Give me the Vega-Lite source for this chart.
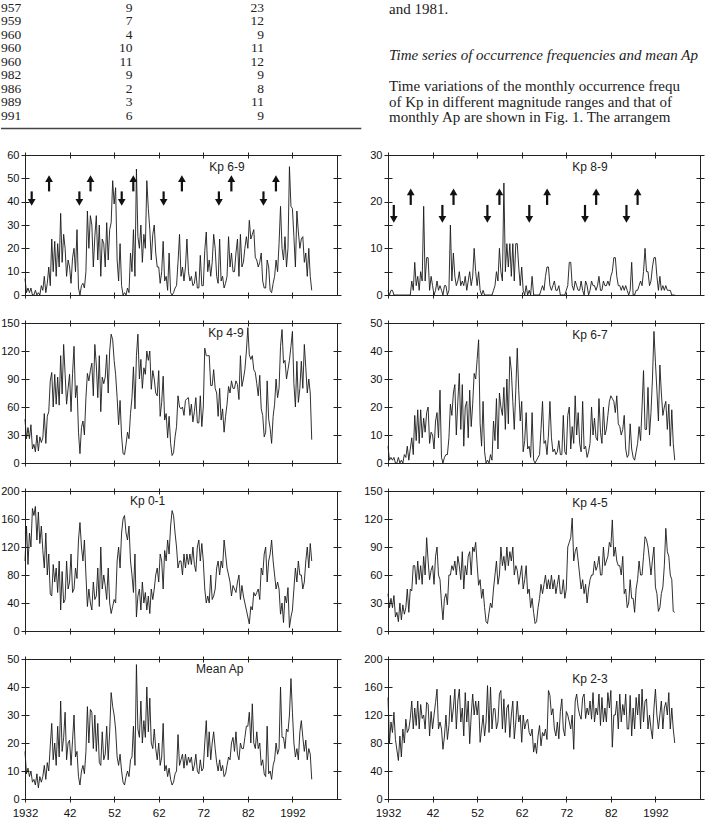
{
"$schema":"https://vega.github.io/schema/vega-lite/v6.json",
"padding":0,
"background":"white",
"columns":2,
"bounds":"flush",
"align":"each",
"spacing":{"row":28,"column":51},
"config":{
 "view":{"stroke":"#222","strokeWidth":1},
 "axis":{"domain":false,"grid":false,"tickColor":"#222","tickWidth":1,"labelFont":"Liberation Sans","labelFontSize":11,"labelColor":"#111","labelFlush":false,"labelOverlap":false}
},
"datasets":{
"m":[
{"t":1932,"a":7,"b":47,"c":100,"d":17,"e":1,"f":6,"g":40,"h":145},
{"t":1932.33,"a":1,"b":26,"c":150,"d":9,"e":0,"f":1,"g":25,"h":80},
{"t":1932.67,"a":3,"b":38,"c":95,"d":11,"e":1,"f":2,"g":35,"h":110},
{"t":1933,"a":1,"b":26,"c":140,"d":8,"e":1,"f":1,"g":25,"h":95},
{"t":1933.33,"a":3,"b":41,"c":120,"d":10,"e":0,"f":2,"g":38,"h":124},
{"t":1933.67,"a":0,"b":15,"c":175,"d":6,"e":0,"f":0,"g":15,"h":85},
{"t":1934,"a":0,"b":20,"c":165,"d":7,"e":0,"f":0,"g":20,"h":70},
{"t":1934.33,"a":2,"b":12,"c":178,"d":5,"e":0,"f":2,"g":10,"h":55},
{"t":1934.67,"a":0,"b":30,"c":130,"d":9,"e":0,"f":0,"g":30,"h":90},
{"t":1935,"a":1,"b":13,"c":170,"d":4,"e":0,"f":1,"g":12,"h":60},
{"t":1935.33,"a":0,"b":28,"c":125,"d":8,"e":0,"f":0,"g":28,"h":100},
{"t":1935.67,"a":4,"b":22,"c":150,"d":6,"e":0,"f":3,"g":18,"h":80},
{"t":1936,"a":2,"b":27,"c":115,"d":8,"e":0,"f":2,"g":25,"h":114},
{"t":1936.33,"a":8,"b":53,"c":90,"d":12,"e":0,"f":6,"g":45,"h":95},
{"t":1936.67,"a":1,"b":21,"c":140,"d":7,"e":0,"f":1,"g":20,"h":100},
{"t":1937,"a":5,"b":50,"c":80,"d":13,"e":0,"f":5,"g":45,"h":115},
{"t":1937.33,"a":12,"b":55,"c":110,"d":10,"e":3,"f":9,"g":43,"h":140},
{"t":1937.67,"a":4,"b":88,"c":53,"d":19,"e":1,"f":3,"g":70,"h":100},
{"t":1938,"a":24,"b":97,"c":50,"d":27,"e":7,"f":17,"g":70,"h":130},
{"t":1938.33,"a":10,"b":60,"c":95,"d":14,"e":2,"f":8,"g":50,"h":105},
{"t":1938.67,"a":23,"b":95,"c":70,"d":20,"e":4,"f":19,"g":75,"h":140},
{"t":1939,"a":8,"b":63,"c":90,"d":12,"e":1,"f":7,"g":55,"h":100},
{"t":1939.33,"a":22,"b":92,"c":55,"d":26,"e":5,"f":19,"g":70,"h":135},
{"t":1939.67,"a":12,"b":62,"c":100,"d":15,"e":3,"f":9,"g":50,"h":115},
{"t":1940,"a":35,"b":115,"c":30,"d":35,"e":19,"f":16,"g":80,"h":120},
{"t":1940.33,"a":14,"b":74,"c":85,"d":17,"e":3,"f":11,"g":60,"h":100},
{"t":1940.67,"a":26,"b":127,"c":40,"d":22,"e":8,"f":18,"g":100,"h":138},
{"t":1941,"a":20,"b":95,"c":45,"d":31,"e":8,"f":20,"g":75,"h":135},
{"t":1941.33,"a":8,"b":63,"c":100,"d":14,"e":1,"f":7,"g":55,"h":90},
{"t":1941.67,"a":15,"b":80,"c":60,"d":20,"e":4,"f":11,"g":65,"h":125},
{"t":1942,"a":12,"b":95,"c":70,"d":21,"e":2,"f":10,"g":70,"h":100},
{"t":1942.33,"a":5,"b":55,"c":110,"d":12,"e":0,"f":5,"g":50,"h":120},
{"t":1942.67,"a":16,"b":96,"c":55,"d":21,"e":1,"f":15,"g":80,"h":138},
{"t":1943,"a":20,"b":125,"c":60,"d":30,"e":3,"f":18,"g":90,"h":157},
{"t":1943.33,"a":10,"b":70,"c":90,"d":15,"e":1,"f":9,"g":60,"h":100},
{"t":1943.67,"a":28,"b":83,"c":75,"d":17,"e":2,"f":26,"g":55,"h":110},
{"t":1944,"a":3,"b":33,"c":130,"d":8,"e":1,"f":2,"g":30,"h":100},
{"t":1944.33,"a":0,"b":10,"c":155,"d":5,"e":0,"f":0,"g":12,"h":71},
{"t":1944.67,"a":4,"b":38,"c":120,"d":10,"e":2,"f":2,"g":35,"h":90},
{"t":1945,"a":5,"b":45,"c":100,"d":12,"e":2,"f":3,"g":40,"h":120},
{"t":1945.33,"a":3,"b":30,"c":130,"d":9,"e":0,"f":3,"g":28,"h":85},
{"t":1945.67,"a":10,"b":70,"c":80,"d":17,"e":1,"f":9,"g":60,"h":105},
{"t":1946,"a":36,"b":96,"c":35,"d":33,"e":15,"f":21,"g":60,"h":148},
{"t":1946.33,"a":20,"b":88,"c":60,"d":20,"e":3,"f":17,"g":70,"h":110},
{"t":1946.67,"a":34,"b":99,"c":40,"d":32,"e":9,"f":25,"g":65,"h":130},
{"t":1947,"a":30,"b":107,"c":30,"d":31,"e":4,"f":28,"g":75,"h":157},
{"t":1947.33,"a":12,"b":72,"c":70,"d":18,"e":2,"f":10,"g":60,"h":100},
{"t":1947.67,"a":25,"b":127,"c":45,"d":30,"e":3,"f":22,"g":80,"h":140},
{"t":1948,"a":34,"b":105,"c":50,"d":17,"e":5,"f":32,"g":70,"h":157},
{"t":1948.33,"a":15,"b":70,"c":90,"d":27,"e":2,"f":12,"g":55,"h":110},
{"t":1948.67,"a":30,"b":115,"c":35,"d":13,"e":3,"f":28,"g":85,"h":130},
{"t":1949,"a":8,"b":55,"c":120,"d":12,"e":2,"f":6,"g":45,"h":90},
{"t":1949.33,"a":24,"b":92,"c":60,"d":24,"e":4,"f":20,"g":70,"h":152},
{"t":1949.67,"a":22,"b":85,"c":80,"d":14,"e":1,"f":22,"g":60,"h":110},
{"t":1950,"a":12,"b":92,"c":65,"d":16,"e":3,"f":9,"g":80,"h":140},
{"t":1950.33,"a":31,"b":116,"c":45,"d":26,"e":5,"f":26,"g":85,"h":79},
{"t":1950.67,"a":15,"b":75,"c":90,"d":14,"e":2,"f":13,"g":60,"h":120},
{"t":1951,"a":28,"b":120,"c":40,"d":24,"e":4,"f":21,"g":90,"h":150},
{"t":1951.33,"a":31,"b":138,"c":25,"d":38,"e":10,"f":32,"g":85,"h":120},
{"t":1951.67,"a":49,"b":132,"c":35,"d":33,"e":5,"f":30,"g":95,"h":140},
{"t":1952,"a":39,"b":110,"c":45,"d":30,"e":2,"f":37,"g":71,"h":120},
{"t":1952.33,"a":46,"b":95,"c":40,"d":25,"e":5,"f":44,"g":49,"h":140},
{"t":1952.67,"a":15,"b":70,"c":100,"d":15,"e":1,"f":14,"g":55,"h":81},
{"t":1953,"a":6,"b":41,"c":120,"d":12,"e":0,"f":6,"g":35,"h":100},
{"t":1953.33,"a":22,"b":67,"c":90,"d":16,"e":1,"f":22,"g":45,"h":120},
{"t":1953.67,"a":4,"b":29,"c":140,"d":10,"e":0,"f":4,"g":25,"h":90},
{"t":1954,"a":0,"b":10,"c":160,"d":6,"e":0,"f":0,"g":10,"h":110},
{"t":1954.33,"a":1,"b":9,"c":165,"d":5,"e":0,"f":1,"g":8,"h":162},
{"t":1954.67,"a":0,"b":20,"c":140,"d":8,"e":0,"f":0,"g":20,"h":95},
{"t":1955,"a":3,"b":33,"c":130,"d":10,"e":0,"f":3,"g":30,"h":160},
{"t":1955.33,"a":1,"b":26,"c":150,"d":8,"e":0,"f":1,"g":25,"h":100},
{"t":1955.67,"a":18,"b":53,"c":100,"d":14,"e":1,"f":15,"g":45,"h":129},
{"t":1956,"a":10,"b":70,"c":80,"d":15,"e":2,"f":8,"g":60,"h":129},
{"t":1956.33,"a":28,"b":103,"c":55,"d":26,"e":5,"f":23,"g":75,"h":100},
{"t":1956.67,"a":8,"b":58,"c":110,"d":12,"e":3,"f":5,"g":50,"h":110},
{"t":1957,"a":54,"b":115,"c":20,"d":48,"e":10,"f":25,"g":60,"h":150},
{"t":1957.33,"a":25,"b":138,"c":50,"d":25,"e":5,"f":20,"g":90,"h":155},
{"t":1957.67,"a":20,"b":90,"c":60,"d":22,"e":3,"f":17,"g":70,"h":100},
{"t":1958,"a":30,"b":111,"c":30,"d":35,"e":24,"f":27,"g":80,"h":143},
{"t":1958.33,"a":14,"b":80,"c":70,"d":20,"e":5,"f":12,"g":65,"h":95},
{"t":1958.67,"a":26,"b":102,"c":40,"d":28,"e":11,"f":30,"g":90,"h":130},
{"t":1959,"a":20,"b":95,"c":55,"d":22,"e":6,"f":14,"g":70,"h":135},
{"t":1959.33,"a":49,"b":120,"c":30,"d":40,"e":11,"f":38,"g":85,"h":88},
{"t":1959.67,"a":37,"b":110,"c":50,"d":24,"e":4,"f":33,"g":75,"h":120},
{"t":1960,"a":28,"b":120,"c":25,"d":36,"e":11,"f":22,"g":90,"h":140},
{"t":1960.33,"a":15,"b":79,"c":60,"d":20,"e":3,"f":12,"g":60,"h":86},
{"t":1960.67,"a":26,"b":99,"c":45,"d":18,"e":11,"f":26,"g":70,"h":110},
{"t":1961,"a":30,"b":90,"c":60,"d":25,"e":11,"f":41,"g":65,"h":140},
{"t":1961.33,"a":18,"b":75,"c":80,"d":18,"e":6,"f":26,"g":50,"h":110},
{"t":1961.67,"a":12,"b":72,"c":90,"d":14,"e":2,"f":15,"g":60,"h":120},
{"t":1962,"a":12,"b":99,"c":70,"d":20,"e":6,"f":22,"g":70,"h":81},
{"t":1962.33,"a":5,"b":50,"c":110,"d":12,"e":1,"f":4,"g":45,"h":120},
{"t":1962.67,"a":10,"b":65,"c":100,"d":15,"e":0,"f":8,"g":55,"h":100},
{"t":1963,"a":23,"b":93,"c":60,"d":27,"e":2,"f":18,"g":70,"h":110},
{"t":1963.33,"a":6,"b":46,"c":115,"d":10,"e":0,"f":5,"g":40,"h":114},
{"t":1963.67,"a":8,"b":53,"c":100,"d":12,"e":1,"f":6,"g":45,"h":95},
{"t":1964,"a":2,"b":27,"c":130,"d":8,"e":0,"f":2,"g":25,"h":90},
{"t":1964.33,"a":18,"b":50,"c":110,"d":11,"e":4,"f":18,"g":35,"h":100},
{"t":1964.67,"a":1,"b":21,"c":150,"d":7,"e":0,"f":1,"g":20,"h":67},
{"t":1965,"a":0,"b":8,"c":172,"d":5,"e":0,"f":0,"g":8,"h":80},
{"t":1965.33,"a":1,"b":11,"c":165,"d":6,"e":0,"f":1,"g":10,"h":65},
{"t":1965.67,"a":3,"b":28,"c":140,"d":9,"e":0,"f":2,"g":25,"h":90},
{"t":1966,"a":4,"b":39,"c":120,"d":10,"e":0,"f":3,"g":35,"h":105},
{"t":1966.33,"a":14,"b":72,"c":90,"d":23,"e":1,"f":12,"g":50,"h":76},
{"t":1966.67,"a":26,"b":60,"c":100,"d":12,"e":2,"f":22,"g":40,"h":95},
{"t":1967,"a":8,"b":58,"c":100,"d":14,"e":1,"f":7,"g":50,"h":90},
{"t":1967.33,"a":12,"b":60,"c":80,"d":16,"e":4,"f":8,"g":60,"h":100},
{"t":1967.67,"a":6,"b":51,"c":110,"d":11,"e":6,"f":3,"g":45,"h":85},
{"t":1968,"a":12,"b":67,"c":90,"d":16,"e":6,"f":10,"g":55,"h":155},
{"t":1968.33,"a":24,"b":69,"c":110,"d":12,"e":2,"f":22,"g":45,"h":148},
{"t":1968.67,"a":10,"b":70,"c":95,"d":15,"e":1,"f":9,"g":60,"h":120},
{"t":1969,"a":6,"b":51,"c":110,"d":13,"e":2,"f":4,"g":45,"h":129},
{"t":1969.33,"a":8,"b":63,"c":95,"d":15,"e":3,"f":5,"g":55,"h":100},
{"t":1969.67,"a":4,"b":44,"c":120,"d":10,"e":1,"f":3,"g":40,"h":90},
{"t":1970,"a":5,"b":55,"c":95,"d":12,"e":1,"f":4,"g":50,"h":110},
{"t":1970.33,"a":10,"b":70,"c":85,"d":16,"e":2,"f":8,"g":60,"h":86},
{"t":1970.67,"a":3,"b":43,"c":120,"d":10,"e":0,"f":3,"g":40,"h":125},
{"t":1971,"a":3,"b":43,"c":130,"d":9,"e":0,"f":3,"g":40,"h":143},
{"t":1971.33,"a":17,"b":72,"c":100,"d":14,"e":0,"f":17,"g":55,"h":100},
{"t":1971.67,"a":4,"b":39,"c":125,"d":10,"e":0,"f":4,"g":35,"h":90},
{"t":1972,"a":4,"b":60,"c":100,"d":11,"e":1,"f":3,"g":45,"h":125},
{"t":1972.33,"a":19,"b":123,"c":60,"d":20,"e":2,"f":17,"g":90,"h":120},
{"t":1972.67,"a":27,"b":115,"c":40,"d":28,"e":7,"f":20,"g":95,"h":110},
{"t":1973,"a":10,"b":115,"c":50,"d":15,"e":7,"f":5,"g":100,"h":100},
{"t":1973.33,"a":15,"b":115,"c":40,"d":24,"e":2,"f":13,"g":121,"h":120},
{"t":1973.67,"a":8,"b":83,"c":80,"d":14,"e":1,"f":7,"g":75,"h":71},
{"t":1974,"a":14,"b":83,"c":45,"d":20,"e":3,"f":24,"g":85,"h":140},
{"t":1974.33,"a":26,"b":100,"c":50,"d":24,"e":2,"f":10,"g":90,"h":150},
{"t":1974.67,"a":20,"b":80,"c":60,"d":18,"e":1,"f":18,"g":75,"h":130},
{"t":1975,"a":8,"b":75,"c":90,"d":13,"e":1,"f":7,"g":60,"h":120},
{"t":1975.33,"a":5,"b":50,"c":100,"d":10,"e":3,"f":4,"g":45,"h":114},
{"t":1975.67,"a":24,"b":80,"c":80,"d":14,"e":1,"f":22,"g":55,"h":145},
{"t":1976,"a":6,"b":46,"c":100,"d":10,"e":0,"f":5,"g":40,"h":150},
{"t":1976.33,"a":8,"b":58,"c":90,"d":12,"e":3,"f":6,"g":50,"h":115},
{"t":1976.67,"a":3,"b":33,"c":130,"d":8,"e":2,"f":2,"g":30,"h":130},
{"t":1977,"a":5,"b":50,"c":110,"d":9,"e":0,"f":4,"g":45,"h":120},
{"t":1977.33,"a":8,"b":63,"c":90,"d":12,"e":1,"f":7,"g":55,"h":140},
{"t":1977.67,"a":25,"b":82,"c":80,"d":15,"e":3,"f":20,"g":60,"h":114},
{"t":1978,"a":12,"b":75,"c":70,"d":14,"e":2,"f":10,"g":60,"h":152},
{"t":1978.33,"a":18,"b":88,"c":50,"d":20,"e":2,"f":16,"g":75,"h":110},
{"t":1978.67,"a":10,"b":80,"c":65,"d":22,"e":1,"f":9,"g":65,"h":130},
{"t":1979,"a":10,"b":80,"c":60,"d":17,"e":2,"f":8,"g":70,"h":120},
{"t":1979.33,"a":18,"b":88,"c":55,"d":24,"e":4,"f":23,"g":80,"h":150},
{"t":1979.67,"a":24,"b":84,"c":70,"d":16,"e":1,"f":11,"g":60,"h":105},
{"t":1980,"a":8,"b":68,"c":80,"d":14,"e":1,"f":7,"g":60,"h":145},
{"t":1980.33,"a":26,"b":115,"c":45,"d":20,"e":3,"f":20,"g":90,"h":110},
{"t":1980.67,"a":12,"b":82,"c":65,"d":18,"e":2,"f":10,"g":70,"h":130},
{"t":1981,"a":14,"b":90,"c":50,"d":18,"e":2,"f":12,"g":75,"h":110},
{"t":1981.33,"a":20,"b":100,"c":40,"d":22,"e":3,"f":17,"g":80,"h":152},
{"t":1981.67,"a":25,"b":120,"c":30,"d":26,"e":2,"f":22,"g":95,"h":130},
{"t":1982,"a":20,"b":145,"c":20,"d":26,"e":4,"f":24,"g":90,"h":155},
{"t":1982.33,"a":32,"b":116,"c":10,"d":31,"e":5,"f":23,"g":119,"h":74},
{"t":1982.67,"a":24,"b":111,"c":35,"d":20,"e":8,"f":22,"g":80,"h":120},
{"t":1983,"a":26,"b":115,"c":30,"d":34,"e":8,"f":18,"g":90,"h":120},
{"t":1983.33,"a":28,"b":100,"c":55,"d":20,"e":4,"f":24,"g":75,"h":140},
{"t":1983.67,"a":16,"b":97,"c":50,"d":18,"e":2,"f":14,"g":70,"h":100},
{"t":1984,"a":15,"b":85,"c":55,"d":24,"e":2,"f":13,"g":70,"h":150},
{"t":1984.33,"a":12,"b":72,"c":60,"d":18,"e":1,"f":10,"g":60,"h":110},
{"t":1984.67,"a":14,"b":94,"c":45,"d":20,"e":2,"f":12,"g":80,"h":135},
{"t":1985,"a":18,"b":58,"c":90,"d":12,"e":1,"f":17,"g":40,"h":120},
{"t":1985.33,"a":6,"b":51,"c":80,"d":14,"e":2,"f":5,"g":45,"h":150},
{"t":1985.67,"a":3,"b":28,"c":110,"d":9,"e":1,"f":2,"g":25,"h":100},
{"t":1986,"a":3,"b":33,"c":120,"d":8,"e":0,"f":3,"g":30,"h":100},
{"t":1986.33,"a":15,"b":88,"c":70,"d":26,"e":1,"f":14,"g":55,"h":148},
{"t":1986.67,"a":12,"b":47,"c":100,"d":9,"e":7,"f":5,"g":35,"h":90},
{"t":1987,"a":2,"b":37,"c":110,"d":10,"e":0,"f":2,"g":35,"h":130},
{"t":1987.33,"a":1,"b":21,"c":130,"d":7,"e":0,"f":1,"g":20,"h":100},
{"t":1987.67,"a":5,"b":50,"c":100,"d":12,"e":1,"f":4,"g":45,"h":145},
{"t":1988,"a":8,"b":63,"c":80,"d":14,"e":1,"f":7,"g":55,"h":120},
{"t":1988.33,"a":15,"b":90,"c":60,"d":20,"e":2,"f":13,"g":75,"h":150},
{"t":1988.67,"a":10,"b":70,"c":70,"d":16,"e":3,"f":8,"g":60,"h":100},
{"t":1989,"a":22,"b":80,"c":60,"d":18,"e":2,"f":20,"g":60,"h":157},
{"t":1989.33,"a":38,"b":125,"c":24,"d":40,"e":5,"f":33,"g":80,"h":110},
{"t":1989.67,"a":20,"b":143,"c":40,"d":22,"e":10,"f":12,"g":101,"h":140},
{"t":1990,"a":15,"b":107,"c":12,"d":22,"e":5,"f":12,"g":98,"h":143},
{"t":1990.33,"a":25,"b":110,"c":50,"d":18,"e":5,"f":27,"g":90,"h":100},
{"t":1990.67,"a":12,"b":90,"c":40,"d":25,"e":2,"f":10,"g":76,"h":120},
{"t":1991,"a":20,"b":100,"c":62,"d":24,"e":3,"f":18,"g":60,"h":100},
{"t":1991.33,"a":55,"b":110,"c":5,"d":30,"e":6,"f":30,"g":76,"h":86},
{"t":1991.67,"a":38,"b":125,"c":20,"d":43,"e":8,"f":47,"g":90,"h":130},
{"t":1992,"a":37,"b":141,"c":30,"d":31,"e":8,"f":36,"g":47,"h":157},
{"t":1992.33,"a":25,"b":85,"c":60,"d":20,"e":4,"f":26,"g":40,"h":120},
{"t":1992.67,"a":12,"b":60,"c":90,"d":15,"e":1,"f":15,"g":21,"h":100},
{"t":1993,"a":36,"b":109,"c":70,"d":18,"e":4,"f":35,"g":25,"h":120},
{"t":1993.33,"a":27,"b":65,"c":100,"d":14,"e":1,"f":25,"g":40,"h":140},
{"t":1993.67,"a":20,"b":80,"c":80,"d":24,"e":2,"f":17,"g":47,"h":100},
{"t":1994,"a":24,"b":109,"c":80,"d":28,"e":1,"f":20,"g":70,"h":130},
{"t":1994.33,"a":25,"b":80,"c":60,"d":22,"e":2,"f":22,"g":110,"h":138},
{"t":1994.67,"a":14,"b":127,"c":70,"d":17,"e":1,"f":12,"g":85,"h":120},
{"t":1995,"a":18,"b":102,"c":100,"d":21,"e":1,"f":21,"g":80,"h":152},
{"t":1995.33,"a":8,"b":75,"c":120,"d":14,"e":1,"f":6,"g":60,"h":100},
{"t":1995.67,"a":20,"b":90,"c":90,"d":18,"e":0,"f":19,"g":55,"h":130},
{"t":1996,"a":8,"b":75,"c":125,"d":16,"e":0,"f":7,"g":21,"h":100},
{"t":1996.33,"a":2,"b":25,"c":100,"d":7,"e":0,"f":1,"g":20,"h":80}
],
"ar6":[
{"t":1933.5,"s":44.4,"h":39.7,"d":"down"},{"t":1937.4,"s":44.4,"h":49.9,"d":"up"},
{"t":1944.2,"s":44.4,"h":39.7,"d":"down"},{"t":1946.7,"s":44.4,"h":49.9,"d":"up"},
{"t":1953.7,"s":44.4,"h":39.7,"d":"down"},{"t":1956.3,"s":44.4,"h":49.9,"d":"up"},
{"t":1963.1,"s":44.4,"h":39.7,"d":"down"},{"t":1967.2,"s":44.4,"h":49.9,"d":"up"},
{"t":1975.5,"s":44.4,"h":39.7,"d":"down"},{"t":1978.3,"s":44.4,"h":49.9,"d":"up"},
{"t":1985.5,"s":44.4,"h":39.7,"d":"down"},{"t":1988.3,"s":44.4,"h":49.9,"d":"up"}
],
"ar8":[
{"t":1933.3,"s":19.3,"h":16.2,"d":"down"},{"t":1937.1,"s":19.3,"h":22.1,"d":"up"},
{"t":1944.2,"s":19.3,"h":16.2,"d":"down"},{"t":1946.7,"s":19.3,"h":22.1,"d":"up"},
{"t":1954.3,"s":19.3,"h":16.2,"d":"down"},{"t":1957.0,"s":19.3,"h":22.1,"d":"up"},
{"t":1963.7,"s":19.3,"h":16.2,"d":"down"},{"t":1967.7,"s":19.3,"h":22.1,"d":"up"},
{"t":1976.2,"s":19.3,"h":16.2,"d":"down"},{"t":1978.7,"s":19.3,"h":22.1,"d":"up"},
{"t":1985.5,"s":19.3,"h":16.2,"d":"down"},{"t":1988.0,"s":19.3,"h":22.1,"d":"up"}
],
"tb":[
{"r":1,"k":1,"s":"957"},{"r":1,"k":2,"s":"9"},{"r":1,"k":3,"s":"23"},
{"r":2,"k":1,"s":"959"},{"r":2,"k":2,"s":"7"},{"r":2,"k":3,"s":"12"},
{"r":3,"k":1,"s":"960"},{"r":3,"k":2,"s":"4"},{"r":3,"k":3,"s":"9"},
{"r":4,"k":1,"s":"960"},{"r":4,"k":2,"s":"10"},{"r":4,"k":3,"s":"11"},
{"r":5,"k":1,"s":"960"},{"r":5,"k":2,"s":"11"},{"r":5,"k":3,"s":"12"},
{"r":6,"k":1,"s":"982"},{"r":6,"k":2,"s":"9"},{"r":6,"k":3,"s":"9"},
{"r":7,"k":1,"s":"986"},{"r":7,"k":2,"s":"2"},{"r":7,"k":3,"s":"8"},
{"r":8,"k":1,"s":"989"},{"r":8,"k":2,"s":"3"},{"r":8,"k":3,"s":"11"},
{"r":9,"k":1,"s":"991"},{"r":9,"k":2,"s":"6"},{"r":9,"k":3,"s":"9"}
],
"pg":[
{"n":1,"i":0,"s":"and 1981."},
{"n":4,"i":1,"s":"Time series of occurrence frequencies and mean Ap"},
{"n":6,"i":0,"s":"Time variations of the monthly occurrence frequ"},
{"n":7,"i":0,"s":"of Kp in different magnitude ranges and that of"},
{"n":8,"i":0,"s":"monthly Ap are shown in Fig. 1. The arrangem"}
]
},
"concat":[
{
 "width":312,"height":127,"view":{"stroke":null},
 "layer":[
  {"data":{"name":"tb"},"transform":[{"filter":"datum.k==1"}],
   "mark":{"type":"text","align":"left","font":"Liberation Serif","fontSize":13.5,"color":"#222"},
   "encoding":{"x":{"field":"k","type":"quantitative","scale":{"domain":[1,3],"range":[-24,239]},"axis":null},
               "y":{"field":"r","type":"quantitative","scale":{"domain":[1,9],"range":[7.5,115.5]},"axis":null},
               "text":{"field":"s"}}},
  {"data":{"name":"tb"},"transform":[{"filter":"datum.k>1"}],
   "mark":{"type":"text","align":"right","font":"Liberation Serif","fontSize":13.5,"color":"#222"},
   "encoding":{"x":{"field":"k","type":"quantitative","axis":null},
               "y":{"field":"r","type":"quantitative","axis":null},
               "text":{"field":"s"}}},
  {"data":{"values":[{"z":1}]},
   "mark":{"type":"rule","color":"#444","strokeWidth":1.5},
   "encoding":{"x":{"datum":1,"type":"quantitative"},"x2":{"datum":3.74},"y":{"datum":9.96,"type":"quantitative"}}}
 ]
},
{
 "width":312,"height":127,"view":{"stroke":null},
 "layer":[
  {"data":{"name":"pg"},"transform":[{"filter":"datum.i==0"}],
   "mark":{"type":"text","align":"left","font":"Liberation Serif","fontSize":15,"color":"#222"},
   "encoding":{"x":{"datum":0,"type":"quantitative","scale":{"domain":[0,1],"range":[1,2]},"axis":null},
               "y":{"field":"n","type":"quantitative","scale":{"domain":[1,8],"range":[8.5,117]},"axis":null},
               "text":{"field":"s"}}},
  {"data":{"name":"pg"},"transform":[{"filter":"datum.i==1"}],
   "mark":{"type":"text","align":"left","font":"Liberation Serif","fontSize":15,"fontStyle":"italic","color":"#222"},
   "encoding":{"x":{"datum":0,"type":"quantitative","axis":null},
               "y":{"field":"n","type":"quantitative","axis":null},
               "text":{"field":"s"}}}
 ]
},
{
 "width":312,"height":140,
 "layer":[
  {"data":{"name":"m"},"mark":{"type":"line","color":"#1a1a1a","strokeWidth":0.9},
   "encoding":{"x":{"field":"t","type":"quantitative","scale":{"domain":[1932,2002],"nice":false,"zero":false},"axis":{"orient":"bottom","values":[1932,1942,1952,1962,1972,1982,1992],"offset":-3,"tickSize":6,"labels":false,"title":null}},
               "y":{"field":"a","type":"quantitative","scale":{"domain":[0,60],"nice":false},"axis":{"orient":"left","values":[0,10,20,30,40,50,60],"offset":-4,"tickSize":8,"labelPadding":2,"title":null}}}},
  {"data":{"name":"m"},"mark":{"type":"line","opacity":0},
   "encoding":{"x":{"field":"t","type":"quantitative","axis":{"orient":"top","values":[1932,1942,1952,1962,1972,1982,1992],"offset":-3,"tickSize":6,"labels":false,"title":null}},
               "y":{"field":"a","type":"quantitative","axis":{"orient":"right","values":[0,10,20,30,40,50,60],"offset":-4,"tickSize":8,"labels":false,"title":null}}}},
  {"data":{"name":"ar6"},"mark":{"type":"rule","color":"#111","strokeWidth":2.2},
   "encoding":{"x":{"field":"t","type":"quantitative","axis":null},"y":{"field":"s","type":"quantitative","axis":null},"y2":{"field":"h"}}},
  {"data":{"name":"ar6"},"mark":{"type":"point","filled":true,"size":60,"color":"#111","opacity":1},
   "encoding":{"x":{"field":"t","type":"quantitative","axis":null},"y":{"field":"h","type":"quantitative","axis":null},
               "shape":{"field":"d","type":"nominal","scale":{"domain":["down","up"],"range":["triangle-down","triangle-up"]},"legend":null}}},
  {"data":{"values":[{"t":1977.3,"v":54.9,"s":"Kp 6-9"}]},"mark":{"type":"text","font":"Liberation Sans","fontSize":12,"color":"#222"},
   "encoding":{"x":{"field":"t","type":"quantitative","axis":null},"y":{"field":"v","type":"quantitative","axis":null},"text":{"field":"s"}}}
 ],
 "resolve":{"axis":{"x":"independent","y":"independent"}}
},
{
 "width":312,"height":140,
 "layer":[
  {"data":{"name":"m"},"mark":{"type":"line","color":"#1a1a1a","strokeWidth":0.9},
   "encoding":{"x":{"field":"t","type":"quantitative","scale":{"domain":[1932,2002],"nice":false,"zero":false},"axis":{"orient":"bottom","values":[1932,1942,1952,1962,1972,1982,1992],"offset":-3,"tickSize":6,"labels":false,"title":null}},
               "y":{"field":"e","type":"quantitative","scale":{"domain":[0,30],"nice":false},"axis":{"orient":"left","values":[0,5,10,15,20,25,30],"labelExpr":"datum.value % 10 == 0 ? datum.label : ''","offset":-4,"tickSize":8,"labelPadding":2,"title":null}}}},
  {"data":{"name":"m"},"mark":{"type":"line","opacity":0},
   "encoding":{"x":{"field":"t","type":"quantitative","axis":{"orient":"top","values":[1932,1942,1952,1962,1972,1982,1992],"offset":-3,"tickSize":6,"labels":false,"title":null}},
               "y":{"field":"e","type":"quantitative","axis":{"orient":"right","values":[0,5,10,15,20,25,30],"offset":-4,"tickSize":8,"labels":false,"title":null}}}},
  {"data":{"name":"ar8"},"mark":{"type":"rule","color":"#111","strokeWidth":2.2},
   "encoding":{"x":{"field":"t","type":"quantitative","axis":null},"y":{"field":"s","type":"quantitative","axis":null},"y2":{"field":"h"}}},
  {"data":{"name":"ar8"},"mark":{"type":"point","filled":true,"size":60,"color":"#111","opacity":1},
   "encoding":{"x":{"field":"t","type":"quantitative","axis":null},"y":{"field":"h","type":"quantitative","axis":null},
               "shape":{"field":"d","type":"nominal","scale":{"domain":["down","up"],"range":["triangle-down","triangle-up"]},"legend":null}}},
  {"data":{"values":[{"t":1977.3,"v":27.4,"s":"Kp 8-9"}]},"mark":{"type":"text","font":"Liberation Sans","fontSize":12,"color":"#222"},
   "encoding":{"x":{"field":"t","type":"quantitative","axis":null},"y":{"field":"v","type":"quantitative","axis":null},"text":{"field":"s"}}}
 ],
 "resolve":{"axis":{"x":"independent","y":"independent"}}
},
{
 "width":312,"height":140,
 "layer":[
  {"data":{"name":"m"},"mark":{"type":"line","color":"#1a1a1a","strokeWidth":0.9},
   "encoding":{"x":{"field":"t","type":"quantitative","scale":{"domain":[1932,2002],"nice":false,"zero":false},"axis":{"orient":"bottom","values":[1932,1942,1952,1962,1972,1982,1992],"offset":-3,"tickSize":6,"labels":false,"title":null}},
               "y":{"field":"b","type":"quantitative","scale":{"domain":[0,150],"nice":false},"axis":{"orient":"left","values":[0,30,60,90,120,150],"offset":-4,"tickSize":8,"labelPadding":2,"title":null}}}},
  {"data":{"name":"m"},"mark":{"type":"line","opacity":0},
   "encoding":{"x":{"field":"t","type":"quantitative","axis":{"orient":"top","values":[1932,1942,1952,1962,1972,1982,1992],"offset":-3,"tickSize":6,"labels":false,"title":null}},
               "y":{"field":"b","type":"quantitative","axis":{"orient":"right","values":[0,30,60,90,120,150],"offset":-4,"tickSize":8,"labels":false,"title":null}}}},
  {"data":{"values":[{"t":1977.1,"v":139.3,"s":"Kp 4-9"}]},"mark":{"type":"text","font":"Liberation Sans","fontSize":12,"color":"#222"},
   "encoding":{"x":{"field":"t","type":"quantitative","axis":null},"y":{"field":"v","type":"quantitative","axis":null},"text":{"field":"s"}}}
 ],
 "resolve":{"axis":{"x":"independent","y":"independent"}}
},
{
 "width":312,"height":140,
 "layer":[
  {"data":{"name":"m"},"mark":{"type":"line","color":"#1a1a1a","strokeWidth":0.9},
   "encoding":{"x":{"field":"t","type":"quantitative","scale":{"domain":[1932,2002],"nice":false,"zero":false},"axis":{"orient":"bottom","values":[1932,1942,1952,1962,1972,1982,1992],"offset":-3,"tickSize":6,"labels":false,"title":null}},
               "y":{"field":"f","type":"quantitative","scale":{"domain":[0,50],"nice":false},"axis":{"orient":"left","values":[0,10,20,30,40,50],"offset":-4,"tickSize":8,"labelPadding":2,"title":null}}}},
  {"data":{"name":"m"},"mark":{"type":"line","opacity":0},
   "encoding":{"x":{"field":"t","type":"quantitative","axis":{"orient":"top","values":[1932,1942,1952,1962,1972,1982,1992],"offset":-3,"tickSize":6,"labels":false,"title":null}},
               "y":{"field":"f","type":"quantitative","axis":{"orient":"right","values":[0,10,20,30,40,50],"offset":-4,"tickSize":8,"labels":false,"title":null}}}},
  {"data":{"values":[{"t":1977.3,"v":45.7,"s":"Kp 6-7"}]},"mark":{"type":"text","font":"Liberation Sans","fontSize":12,"color":"#222"},
   "encoding":{"x":{"field":"t","type":"quantitative","axis":null},"y":{"field":"v","type":"quantitative","axis":null},"text":{"field":"s"}}}
 ],
 "resolve":{"axis":{"x":"independent","y":"independent"}}
},
{
 "width":312,"height":140,
 "layer":[
  {"data":{"name":"m"},"mark":{"type":"line","color":"#1a1a1a","strokeWidth":0.9},
   "encoding":{"x":{"field":"t","type":"quantitative","scale":{"domain":[1932,2002],"nice":false,"zero":false},"axis":{"orient":"bottom","values":[1932,1942,1952,1962,1972,1982,1992],"offset":-3,"tickSize":6,"labels":false,"title":null}},
               "y":{"field":"c","type":"quantitative","scale":{"domain":[0,200],"nice":false},"axis":{"orient":"left","values":[0,40,80,120,160,200],"offset":-4,"tickSize":8,"labelPadding":2,"title":null}}}},
  {"data":{"name":"m"},"mark":{"type":"line","opacity":0},
   "encoding":{"x":{"field":"t","type":"quantitative","axis":{"orient":"top","values":[1932,1942,1952,1962,1972,1982,1992],"offset":-3,"tickSize":6,"labels":false,"title":null}},
               "y":{"field":"c","type":"quantitative","axis":{"orient":"right","values":[0,40,80,120,160,200],"offset":-4,"tickSize":8,"labels":false,"title":null}}}},
  {"data":{"values":[{"t":1959.5,"v":185.7,"s":"Kp 0-1"}]},"mark":{"type":"text","font":"Liberation Sans","fontSize":12,"color":"#222"},
   "encoding":{"x":{"field":"t","type":"quantitative","axis":null},"y":{"field":"v","type":"quantitative","axis":null},"text":{"field":"s"}}}
 ],
 "resolve":{"axis":{"x":"independent","y":"independent"}}
},
{
 "width":312,"height":140,
 "layer":[
  {"data":{"name":"m"},"mark":{"type":"line","color":"#1a1a1a","strokeWidth":0.9},
   "encoding":{"x":{"field":"t","type":"quantitative","scale":{"domain":[1932,2002],"nice":false,"zero":false},"axis":{"orient":"bottom","values":[1932,1942,1952,1962,1972,1982,1992],"offset":-3,"tickSize":6,"labels":false,"title":null}},
               "y":{"field":"g","type":"quantitative","scale":{"domain":[0,150],"nice":false},"axis":{"orient":"left","values":[0,30,60,90,120,150],"offset":-4,"tickSize":8,"labelPadding":2,"title":null}}}},
  {"data":{"name":"m"},"mark":{"type":"line","opacity":0},
   "encoding":{"x":{"field":"t","type":"quantitative","axis":{"orient":"top","values":[1932,1942,1952,1962,1972,1982,1992],"offset":-3,"tickSize":6,"labels":false,"title":null}},
               "y":{"field":"g","type":"quantitative","axis":{"orient":"right","values":[0,30,60,90,120,150],"offset":-4,"tickSize":8,"labels":false,"title":null}}}},
  {"data":{"values":[{"t":1977.3,"v":137,"s":"Kp 4-5"}]},"mark":{"type":"text","font":"Liberation Sans","fontSize":12,"color":"#222"},
   "encoding":{"x":{"field":"t","type":"quantitative","axis":null},"y":{"field":"v","type":"quantitative","axis":null},"text":{"field":"s"}}}
 ],
 "resolve":{"axis":{"x":"independent","y":"independent"}}
},
{
 "width":312,"height":140,
 "layer":[
  {"data":{"name":"m"},"mark":{"type":"line","color":"#1a1a1a","strokeWidth":0.9},
   "encoding":{"x":{"field":"t","type":"quantitative","scale":{"domain":[1932,2002],"nice":false,"zero":false},"axis":{"orient":"bottom","values":[1932,1942,1952,1962,1972,1982,1992],"offset":-3,"tickSize":6,"labelPadding":5,"labelFontSize":11.5,"format":"d","labelExpr":"datum.value == 1932 || datum.value == 1992 ? datum.label : slice(datum.label, 2)","title":null}},
               "y":{"field":"d","type":"quantitative","scale":{"domain":[0,50],"nice":false},"axis":{"orient":"left","values":[0,10,20,30,40,50],"offset":-4,"tickSize":8,"labelPadding":2,"title":null}}}},
  {"data":{"name":"m"},"mark":{"type":"line","opacity":0},
   "encoding":{"x":{"field":"t","type":"quantitative","axis":{"orient":"top","values":[1932,1942,1952,1962,1972,1982,1992],"offset":-3,"tickSize":6,"labels":false,"title":null}},
               "y":{"field":"d","type":"quantitative","axis":{"orient":"right","values":[0,10,20,30,40,50],"offset":-4,"tickSize":8,"labels":false,"title":null}}}},
  {"data":{"values":[{"t":1975.7,"v":46.4,"s":"Mean Ap"}]},"mark":{"type":"text","font":"Liberation Sans","fontSize":12,"color":"#222"},
   "encoding":{"x":{"field":"t","type":"quantitative","axis":null},"y":{"field":"v","type":"quantitative","axis":null},"text":{"field":"s"}}}
 ],
 "resolve":{"axis":{"x":"independent","y":"independent"}}
},
{
 "width":312,"height":140,
 "layer":[
  {"data":{"name":"m"},"mark":{"type":"line","color":"#1a1a1a","strokeWidth":0.9},
   "encoding":{"x":{"field":"t","type":"quantitative","scale":{"domain":[1932,2002],"nice":false,"zero":false},"axis":{"orient":"bottom","values":[1932,1942,1952,1962,1972,1982,1992],"offset":-3,"tickSize":6,"labelPadding":5,"labelFontSize":11.5,"format":"d","labelExpr":"datum.value == 1932 || datum.value == 1992 ? datum.label : slice(datum.label, 2)","title":null}},
               "y":{"field":"h","type":"quantitative","scale":{"domain":[0,200],"nice":false},"axis":{"orient":"left","values":[0,40,80,120,160,200],"offset":-4,"tickSize":8,"labelPadding":2,"title":null}}}},
  {"data":{"name":"m"},"mark":{"type":"line","opacity":0},
   "encoding":{"x":{"field":"t","type":"quantitative","axis":{"orient":"top","values":[1932,1942,1952,1962,1972,1982,1992],"offset":-3,"tickSize":6,"labels":false,"title":null}},
               "y":{"field":"h","type":"quantitative","axis":{"orient":"right","values":[0,40,80,120,160,200],"offset":-4,"tickSize":8,"labels":false,"title":null}}}},
  {"data":{"values":[{"t":1977.3,"v":171.4,"s":"Kp 2-3"}]},"mark":{"type":"text","font":"Liberation Sans","fontSize":12,"color":"#222"},
   "encoding":{"x":{"field":"t","type":"quantitative","axis":null},"y":{"field":"v","type":"quantitative","axis":null},"text":{"field":"s"}}}
 ],
 "resolve":{"axis":{"x":"independent","y":"independent"}}
}
]
}
